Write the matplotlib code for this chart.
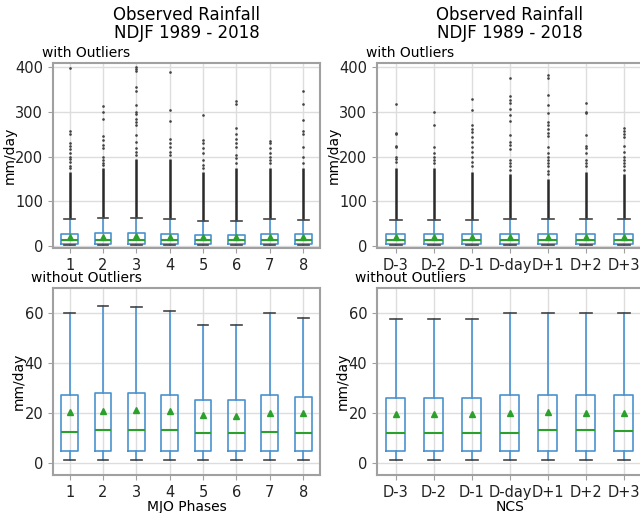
import numpy as np
import matplotlib
matplotlib.use('Agg')
import matplotlib.pyplot as plt

# MJO phases, values read off the lower (no outlier) panel
mjo_labels = ['1', '2', '3', '4', '5', '6', '7', '8']
mjo_whislo = [1.0, 1.0, 1.0, 1.0, 1.0, 1.0, 1.0, 1.0]
mjo_q1 = [4.8, 4.8, 4.8, 4.8, 4.8, 4.8, 4.8, 4.8]
mjo_med = [12.1, 13.0, 13.0, 13.0, 11.8, 12.0, 12.3, 12.0]
mjo_mean = [20.1, 20.5, 20.9, 20.5, 18.9, 18.6, 19.7, 19.7]
mjo_q3 = [26.9, 28.0, 28.0, 27.2, 24.9, 24.9, 26.9, 26.2]
mjo_whishi = [60.0, 62.7, 62.4, 60.9, 55.0, 55.0, 60.0, 58.0]
# top of the solid black run of outliers and the sparse ones above it
mjo_dense_top = [165, 175, 195, 195, 165, 175, 175, 175]
mjo_fliers = [
    [399, 258, 250, 230, 224, 216, 207, 199, 194, 188, 179, 174],
    [313, 300, 285, 246, 237, 226, 219, 200, 193, 186, 181],
    [400, 396, 391, 357, 348, 315, 300, 295, 285, 278, 270, 248, 233, 220, 211, 204],
    [389, 304, 280, 239, 231, 221, 211, 204],
    [293, 237, 230, 219, 209, 193, 181, 175],
    [324, 319, 265, 250, 239, 230, 221, 204, 196, 185],
    [236, 230, 219, 207, 200, 193, 185],
    [348, 319, 282, 258, 250, 221, 200, 185],
]

# NCS days
ncs_labels = ['D-3', 'D-2', 'D-1', 'D-day', 'D+1', 'D+2', 'D+3']
ncs_whislo = [1.0, 1.0, 1.0, 1.0, 1.0, 1.0, 1.0]
ncs_q1 = [4.8, 4.8, 4.8, 4.8, 4.8, 4.8, 4.8]
ncs_med = [12.0, 12.0, 12.0, 12.0, 13.0, 12.9, 12.6]
ncs_mean = [19.6, 19.6, 19.6, 20.0, 20.4, 20.0, 19.7]
ncs_q3 = [26.0, 26.0, 26.0, 26.9, 26.9, 26.9, 26.9]
ncs_whishi = [57.6, 57.6, 57.6, 60.0, 60.0, 60.0, 60.0]
ncs_dense_top = [175, 175, 165, 160, 150, 165, 160]
ncs_fliers = [
    [317, 253, 250, 224, 221, 200, 194, 189],
    [299, 270, 221, 207, 200, 193, 185],
    [329, 304, 270, 263, 256, 244, 233, 222, 211, 200, 189, 180],
    [376, 335, 326, 320, 307, 293, 279, 248, 233, 226, 216, 193, 185, 178, 170],
    [384, 376, 339, 316, 298, 277, 270, 263, 253, 246, 221, 207, 200, 193, 185, 178, 167, 160],
    [320, 300, 298, 248, 224, 219, 207, 193, 185, 178],
    [265, 258, 250, 243, 224, 211, 200, 193, 185, 178, 170],
]

BOX = '#4b92d0'
GREEN = '#2ca02c'


def panel(ax, labels, lo, q1, med, mean, q3, hi, dense, fliers, outliers):
    stats = []
    for i in range(len(labels)):
        stats.append(dict(label=labels[i], whislo=lo[i], q1=q1[i], med=med[i],
                          mean=mean[i], q3=q3[i], whishi=hi[i],
                          fliers=np.array(fliers[i]) if outliers else np.array([])))
    pos = np.arange(1, len(labels) + 1)
    if outliers:
        # the packed outliers just above the caps read as a solid black run
        ax.vlines(pos, hi, dense, color='#2a2a2a', lw=1.8, zorder=2)
    ax.bxp(stats, positions=pos, widths=0.5, capwidths=0.32, showmeans=True,
           showfliers=outliers,
           boxprops=dict(color=BOX, lw=1.2),
           whiskerprops=dict(color=BOX, lw=1.2),
           capprops=dict(color='#444444', lw=1.2),
           medianprops=dict(color=GREEN, lw=1.5),
           meanprops=dict(marker='^', markerfacecolor=GREEN, markeredgecolor=GREEN, markersize=4),
           flierprops=dict(marker='.', markersize=1.8, markerfacecolor='#444444',
                           markeredgecolor='#444444', linestyle='none'))
    ax.set_xlim(0.5, len(labels) + 0.5)
    ax.grid(True, color='#dddddd', lw=1.0)
    ax.set_axisbelow(True)
    for s in ax.spines.values():
        s.set_color('#a0a0a0')
        s.set_linewidth(1.5)
    ax.tick_params(labelsize=10.5, color='#a0a0a0', labelcolor='#222222')
    ax.set_ylabel('mm/day', fontsize=10, labelpad=-1)
    ax.text(0.125, 1.015, 'with Outliers' if outliers else 'without Outliers',
            transform=ax.transAxes, ha='center', va='bottom', fontsize=10)


fig = plt.figure(figsize=(6.4, 5.13), dpi=100)
ax1 = fig.add_axes([0.0828, 0.5166, 0.417, 0.3606])
ax2 = fig.add_axes([0.589, 0.5166, 0.4156, 0.3606])
ax3 = fig.add_axes([0.0828, 0.0741, 0.417, 0.3645])
ax4 = fig.add_axes([0.589, 0.0741, 0.4156, 0.3645])

panel(ax1, mjo_labels, mjo_whislo, mjo_q1, mjo_med, mjo_mean, mjo_q3, mjo_whishi,
      mjo_dense_top, mjo_fliers, True)
panel(ax2, ncs_labels, ncs_whislo, ncs_q1, ncs_med, ncs_mean, ncs_q3, ncs_whishi,
      ncs_dense_top, ncs_fliers, True)
panel(ax3, mjo_labels, mjo_whislo, mjo_q1, mjo_med, mjo_mean, mjo_q3, mjo_whishi,
      mjo_dense_top, mjo_fliers, False)
panel(ax4, ncs_labels, ncs_whislo, ncs_q1, ncs_med, ncs_mean, ncs_q3, ncs_whishi,
      ncs_dense_top, ncs_fliers, False)

for ax in (ax1, ax2):
    ax.set_ylim(-5, 410)
    ax.set_yticks([0, 100, 200, 300, 400])
    ax.set_title('Observed Rainfall\nNDJF 1989 - 2018', fontsize=12, pad=18,
                 linespacing=1.0)
for ax in (ax3, ax4):
    ax.set_ylim(-5, 70)
    ax.set_yticks([0, 20, 40, 60])
ax3.set_xlabel('MJO Phases', fontsize=10, labelpad=0)
ax4.set_xlabel('NCS', fontsize=10, labelpad=0)

fig.savefig('out.png', dpi=100)
